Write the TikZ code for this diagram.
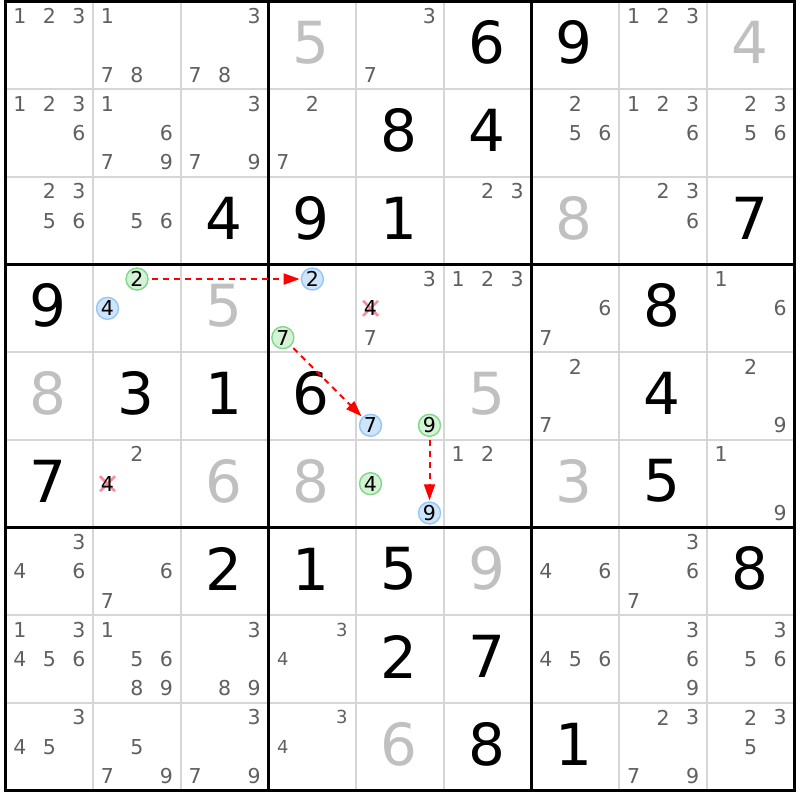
\documentclass[tikz,border=0pt]{standalone}
\usepackage{fontspec}
\setmainfont{DejaVu Sans}
\usetikzlibrary{arrows.meta}
\definecolor{candgray}{RGB}{96,96,96}
\definecolor{placedgray}{RGB}{192,192,192}
\definecolor{thingray}{RGB}{214,214,214}
\definecolor{bluefill}{RGB}{206,228,250}
\definecolor{bluedraw}{RGB}{150,198,248}
\definecolor{greenfill}{RGB}{212,242,212}
\definecolor{greendraw}{RGB}{128,214,140}
\definecolor{xred}{RGB}{250,140,155}
\definecolor{arrowred}{RGB}{255,0,0}
\tikzset{
  givenstyle/.style={font=\fontsize{58}{60}\selectfont, text=black, inner sep=0pt},
  placedstyle/.style={font=\fontsize{58}{60}\selectfont, text=placedgray, inner sep=0pt},
  candstyle/.style={font=\fontsize{20.5}{22}\selectfont, text=candgray, inner sep=0pt},
  smallcand/.style={font=\fontsize{18}{19}\selectfont, text=candgray, inner sep=0pt},
  circbase/.style={circle, line width=1.4pt, minimum size=22pt, inner sep=0pt,
    font=\fontsize{20.5}{22}\selectfont, text=black},
  bluecirc/.style={circbase, draw=bluedraw, fill=bluefill},
  greencirc/.style={circbase, draw=greendraw, fill=greenfill},
  crossdigit/.style={font=\fontsize{20.5}{22}\selectfont, text=black, inner sep=0pt},
  crossmark/.style={draw=xred, line width=2.6pt},
  link/.style={draw=arrowred, color=arrowred, line width=2pt, dash pattern=on 6pt off 5pt,
    shorten <=3pt, shorten >=1pt, -{Triangle[length=16pt,width=11pt]}},
  thinline/.style={draw=thingray, line width=1.5pt},
  thickline/.style={draw=black, line width=3pt},
}
\newcommand\cellpos[2]{%
  \pgfmathsetmacro\cx{5.5+(#2-0.5)*87.67}%
  \pgfmathsetmacro\cy{1.5+(#1-0.5)*87.67}}
\newcommand\candpos[3]{%
  \pgfmathsetmacro\px{5.5+(#2-0.5)*87.67+(mod(#3-1,3)-1)*29.5}%
  \pgfmathsetmacro\py{1.5+(#1-0.5)*87.67+(floor((#3-1)/3)-1)*29.3}}
\newcommand\givenat[3]{\cellpos{#1}{#2}\node[givenstyle] (g#1#2) at (\cx-1,\cy-2.5) {#3};}
\newcommand\placedat[3]{\cellpos{#1}{#2}\node[placedstyle] (p#1#2) at (\cx-1,\cy-2.5) {#3};}
\newcommand\candsat[3]{\foreach \d in {#3}{\candpos{#1}{#2}{\d}\node[candstyle] (k#1#2\d) at (\px,\py) {\d};}}
\newcommand\smallcandsat[3]{\foreach \d in {#3}{\candpos{#1}{#2}{\d}\node[smallcand] (k#1#2\d) at (\px,\py) {\d};}}
\newcommand\crossat[3]{\candpos{#1}{#2}{#3}%
  \draw[crossmark] (\px-7.5,\py-7.5) -- (\px+7.5,\py+7.5) (\px-7.5,\py+7.5) -- (\px+7.5,\py-7.5);
  \node[crossdigit] (x#1#2#3) at (\px,\py) {#3};}
\begin{document}
\begin{tikzpicture}[x=1pt,y=-1pt]
\useasboundingbox (0,0) rectangle (800,800);
\fill[white] (0,0) rectangle (800,800);
% grid
\foreach \i in {1,2,4,5,7,8}{
  \draw[thinline] ({5.5+\i*87.67},1.5) -- ({5.5+\i*87.67},790.5);
  \draw[thinline] (5.5,{1.5+\i*87.67}) -- (794.5,{1.5+\i*87.67});
}
\foreach \i in {3,6}{
  \draw[thickline] ({5.5+\i*87.67},1.5) -- ({5.5+\i*87.67},790.5);
  \draw[thickline] (5.5,{1.5+\i*87.67}) -- (794.5,{1.5+\i*87.67});
}
\draw[thickline] (5.5,1.5) rectangle (794.5,790.5);
% givens
\givenat{1}{6}{6}\givenat{1}{7}{9}
\givenat{2}{5}{8}\givenat{2}{6}{4}
\givenat{3}{3}{4}\givenat{3}{4}{9}\givenat{3}{5}{1}\givenat{3}{9}{7}
\givenat{4}{1}{9}\givenat{4}{8}{8}
\givenat{5}{2}{3}\givenat{5}{3}{1}\givenat{5}{4}{6}\givenat{5}{8}{4}
\givenat{6}{1}{7}\givenat{6}{8}{5}
\givenat{7}{3}{2}\givenat{7}{4}{1}\givenat{7}{5}{5}\givenat{7}{9}{8}
\givenat{8}{5}{2}\givenat{8}{6}{7}
\givenat{9}{6}{8}\givenat{9}{7}{1}
% placed
\placedat{1}{4}{5}\placedat{1}{9}{4}
\placedat{3}{7}{8}
\placedat{4}{3}{5}
\placedat{5}{1}{8}\placedat{5}{6}{5}
\placedat{6}{3}{6}\placedat{6}{4}{8}\placedat{6}{7}{3}
\placedat{7}{6}{9}
\placedat{9}{5}{6}
% candidates
\candsat{1}{1}{1,2,3}\candsat{1}{2}{1,7,8}\candsat{1}{3}{3,7,8}\candsat{1}{5}{3,7}\candsat{1}{8}{1,2,3}
\candsat{2}{1}{1,2,3,6}\candsat{2}{2}{1,6,7,9}\candsat{2}{3}{3,7,9}\candsat{2}{4}{2,7}
\candsat{2}{7}{2,5,6}\candsat{2}{8}{1,2,3,6}\candsat{2}{9}{2,3,5,6}
\candsat{3}{1}{2,3,5,6}\candsat{3}{2}{5,6}\candsat{3}{6}{2,3}\candsat{3}{8}{2,3,6}
\candsat{4}{5}{3,7}\candsat{4}{6}{1,2,3}\candsat{4}{7}{6,7}\candsat{4}{9}{1,6}
\candsat{5}{7}{2,7}\candsat{5}{9}{2,9}
\candsat{6}{2}{2}\candsat{6}{6}{1,2}\candsat{6}{9}{1,9}
\candsat{7}{1}{3,4,6}\candsat{7}{2}{6,7}\candsat{7}{7}{4,6}\candsat{7}{8}{3,6,7}
\candsat{8}{1}{1,3,4,5,6}\candsat{8}{2}{1,5,6,8,9}\candsat{8}{3}{3,8,9}\smallcandsat{8}{4}{3,4}
\candsat{8}{7}{4,5,6}\candsat{8}{8}{3,6,9}\candsat{8}{9}{3,5,6}
\candsat{9}{1}{3,4,5}\candsat{9}{2}{5,7,9}\candsat{9}{3}{3,7,9}\smallcandsat{9}{4}{3,4}
\candsat{9}{8}{2,3,7,9}\candsat{9}{9}{2,3,5}
% eliminated candidates
\crossat{4}{5}{4}
\crossat{6}{2}{4}
% chain circles
\candpos{4}{2}{2}\node[greencirc] (ga) at (\px,\py) {2};
\candpos{4}{2}{4}\node[bluecirc] (bb) at (\px,\py) {4};
\candpos{4}{4}{2}\node[bluecirc] (ba) at (\px,\py) {2};
\candpos{4}{4}{7}\node[greencirc] (gc) at (\px,\py) {7};
\candpos{5}{5}{7}\node[bluecirc] (bc) at (\px,\py) {7};
\candpos{5}{5}{9}\node[greencirc] (gd) at (\px,\py) {9};
\candpos{6}{5}{4}\node[greencirc] (ge) at (\px,\py) {4};
\candpos{6}{5}{9}\node[bluecirc] (bd) at (\px,\py) {9};
% links
\draw[link] (ga) -- (ba);
\draw[link] (gc) -- (bc);
\draw[link] (gd) -- (bd);
\end{tikzpicture}
\end{document}
